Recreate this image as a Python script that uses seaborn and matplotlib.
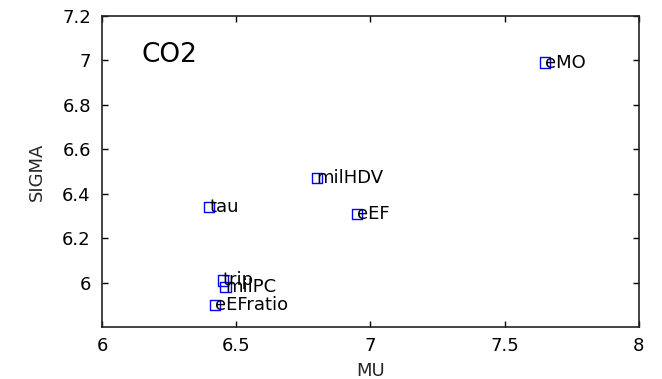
import matplotlib
matplotlib.use("Agg")
import matplotlib.pyplot as plt
import seaborn as sns
import pandas as pd

names = ["eMO", "milHDV", "tau", "eEF", "trip", "milPC", "eEFratio"]
mu = [7.65, 6.80, 6.40, 6.95, 6.45, 6.46, 6.42]
sigma = [6.99, 6.47, 6.34, 6.31, 6.01, 5.98, 5.90]
xticks = [6, 6.5, 7, 7.5, 8]
yticks = [6, 6.2, 6.4, 6.6, 6.8, 7, 7.2]

df = pd.DataFrame({"MU": mu, "SIGMA": sigma, "name": names})

sns.set_theme(style="ticks")
plt.rcParams["font.family"] = ["DejaVu Sans"]

fig = plt.figure(figsize=(6.62, 3.79), dpi=100)
ax = fig.add_axes([0.154, 0.137, 0.811, 0.821])

sns.scatterplot(data=df, x="MU", y="SIGMA", marker="s", s=55,
                facecolors="none", edgecolor="#0000ff", linewidth=1.0,
                ax=ax, legend=False)

for n, x, y in zip(names, mu, sigma):
    ax.text(x, y, n, ha="left", va="center", fontsize=13, color="black")

ax.text(6.149, 7.024, "CO2", fontsize=19, ha="left", va="center", color="black")

ax.set_xlim(6, 8)
ax.set_ylim(5.8, 7.2)
ax.set_xticks(xticks)
ax.set_xticklabels([f"{t:g}" for t in xticks])
ax.set_yticks(yticks)
ax.set_yticklabels([f"{t:g}" for t in yticks])
ax.tick_params(direction="in", top=True, right=True, length=4, width=1,
               labelsize=13, colors="black")
ax.tick_params(axis="x", pad=7)
ax.tick_params(axis="y", pad=8)
for sp in ax.spines.values():
    sp.set_visible(True)
    sp.set_linewidth(1.2)
    sp.set_color("#222222")
ax.set_xlabel("MU", fontsize=13, labelpad=5)
ax.set_ylabel("SIGMA", fontsize=13, labelpad=12)

fig.savefig("out.png", dpi=100)
